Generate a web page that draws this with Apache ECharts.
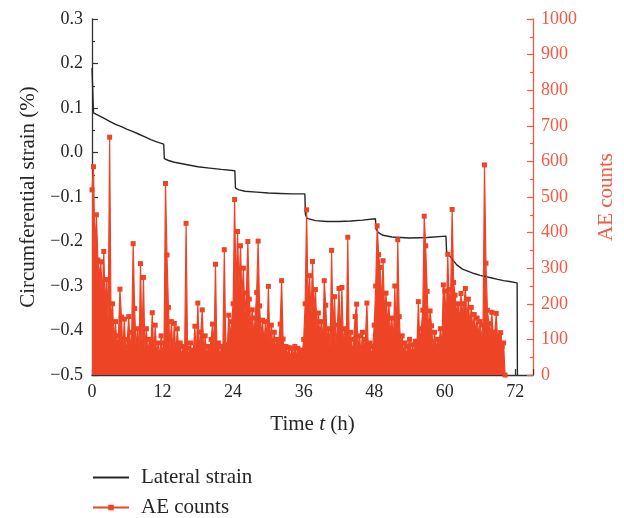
<!DOCTYPE html>
<html><head><meta charset="utf-8">
<script src="https://cdn.jsdelivr.net/npm/echarts@6/dist/echarts.min.js"></script>
<style>html,body{margin:0;padding:0;background:#fff}#c{width:624px;height:518px}</style>
</head><body><div id="c"></div>
<script>
// Lateral (circumferential) strain, % vs time (h)
const strainTime = [0, 0.25, 0.5, 1, 2, 3, 4, 5, 6, 7, 8, 9, 10, 11, 12.2, 12.3, 13, 14, 16, 18, 20, 22, 24.3, 24.4, 25, 26, 28, 30, 32, 34, 36.2, 36.3, 36.6, 38, 40, 42, 44, 46, 48.2, 48.3, 48.7, 49.5, 51, 54, 57, 60.2, 60.3, 61, 62, 63, 64, 65, 66, 67, 68, 69, 70, 71, 72.3, 72.35];
const strainValue = [0.19, 0.089, 0.087, 0.084, 0.077, 0.070, 0.063, 0.058, 0.052, 0.047, 0.041, 0.035, 0.029, 0.024, 0.019, -0.014, -0.018, -0.022, -0.027, -0.032, -0.035, -0.038, -0.041, -0.080, -0.084, -0.087, -0.089, -0.091, -0.092, -0.093, -0.093, -0.140, -0.148, -0.153, -0.155, -0.155, -0.154, -0.152, -0.149, -0.172, -0.180, -0.186, -0.190, -0.192, -0.191, -0.188, -0.222, -0.235, -0.252, -0.262, -0.267, -0.272, -0.276, -0.279, -0.282, -0.285, -0.288, -0.290, -0.293, -0.5];

// AE counts, sampled every aeStep hours starting at t = 0
const aeStep = 0.25;
const aeCounts = [
  520, 585, 351, 450, 323, 280, 318, 220, 347, 200, 268, 150,
  668, 130, 200, 90, 150, 80, 110, 241, 163, 70, 157, 60,
  100, 164, 70, 120, 369, 187, 75, 130, 65, 313, 90, 274,
  70, 130, 60, 100, 75, 175, 60, 140, 55, 90, 50, 110,
  60, 90, 538, 337, 190, 70, 150, 65, 145, 55, 130, 70,
  90, 50, 80, 60, 426, 75, 50, 90, 55, 70, 137, 50,
  202, 65, 120, 183, 60, 110, 50, 80, 60, 100, 143, 70,
  311, 60, 90, 50, 80, 60, 352, 85, 70, 168, 110, 150,
  200, 493, 230, 403, 250, 363, 220, 300, 170, 230, 375, 213,
  140, 183, 110, 160, 232, 376, 194, 110, 154, 90, 150, 100,
  249, 90, 140, 80, 120, 70, 100, 88, 143, 265, 101, 60,
  80, 55, 77, 45, 75, 55, 80, 50, 75, 60, 70, 55,
  100, 200, 464, 190, 279, 170, 319, 180, 240, 130, 174, 110,
  150, 90, 265, 196, 100, 130, 75, 350, 120, 220, 80, 140,
  243, 95, 246, 80, 130, 98, 387, 75, 120, 60, 100, 164,
  199, 70, 110, 60, 120, 75, 100, 202, 65, 90, 55, 80,
  140, 250, 419, 338, 302, 200, 321, 170, 230, 140, 199, 110,
  160, 90, 250, 110, 380, 164, 80, 110, 60, 90, 55, 80,
  100, 55, 85, 60, 95, 70, 206, 90, 130, 182, 446, 363,
  235, 120, 180, 138, 75, 120, 70, 100, 80, 130, 75, 253,
  236, 150, 339, 200, 240, 465, 260, 224, 170, 200, 150, 229,
  170, 200, 243, 150, 213, 140, 190, 130, 170, 120, 160, 110,
  150, 100, 140, 590, 314, 182, 144, 110, 176, 100, 120, 173,
  90, 110, 119, 80, 90, 0
];

const xTicks = [0, 12, 24, 36, 48, 60, 72];

const strainData = strainTime.map((t, i) => [t, strainValue[i]]);
const aeData = aeCounts.map((v, i) => [i * aeStep, v]);

const FONT = "'Liberation Serif', 'DejaVu Serif', serif";
const DARK = '#262626';
const RED = '#EE4426';
const RED_AX = '#F05A44';

const chart = echarts.init(document.getElementById('c'), null, {renderer: 'canvas'});
chart.setOption({
  animation: false,
  backgroundColor: '#fff',
  grid: {left: 92, right: 91, top: 19, bottom: 143, outerBoundsMode: 'none'},
  legend: {
    orient: 'vertical', left: 92, top: 467, height: 100, padding: 0,
    itemWidth: 36, itemHeight: 7, itemGap: 9,
    textStyle: {fontFamily: FONT, fontSize: 21, color: DARK, padding: [0, 0, 0, 7]},
    data: [{name: 'Lateral strain', itemStyle: {opacity: 0}}, {name: 'AE counts'}]
  },
  xAxis: {
    type: 'value', min: 0, max: 75, interval: 12,
    name: '{n|Time }{i|t}{n| (h)}', nameLocation: 'middle', nameGap: 39,
    nameTextStyle: {rich: {
      n: {fontFamily: FONT, fontSize: 21, color: DARK},
      i: {fontFamily: FONT, fontSize: 21, color: DARK, fontStyle: 'italic'}
    }},
    axisLine: {show: true, onZero: false, lineStyle: {color: '#333', width: 1.3}},
    axisTick: {show: true, inside: true, length: 6, lineStyle: {color: '#333', width: 1.2}},
    minorTick: {show: true, splitNumber: 2, length: 3, lineStyle: {color: '#333', width: 1.2}},
    splitLine: {show: false},
    axisLabel: {fontFamily: FONT, fontSize: 18, color: DARK, margin: 8,
      formatter: v => xTicks.indexOf(v) >= 0 ? String(v) : ''}
  },
  yAxis: [{
    type: 'value', min: -0.5, max: 0.3, interval: 0.1, position: 'left',
    name: 'Circumferential strain (%)', nameLocation: 'middle', nameGap: 52,
    nameTextStyle: {fontFamily: FONT, fontSize: 21, color: DARK},
    axisLine: {show: true, onZero: false, lineStyle: {color: '#333', width: 1.3}},
    axisTick: {show: true, inside: true, length: 6, lineStyle: {color: '#333', width: 1.2}},
    minorTick: {show: true, splitNumber: 2, length: 3, lineStyle: {color: '#333', width: 1.2}},
    splitLine: {show: false},
    axisLabel: {fontFamily: FONT, fontSize: 18, color: DARK, margin: 9,
      formatter: v => Math.abs(v) < 1e-9 ? '0.0' : v.toFixed(1).replace('-', '\u2212')}
  }, {
    type: 'value', min: 0, max: 1000, interval: 100, position: 'right',
    name: 'AE counts', nameLocation: 'middle', nameGap: 63, nameRotate: 90,
    nameTextStyle: {fontFamily: FONT, fontSize: 21, color: RED_AX},
    axisLine: {show: true, onZero: false, lineStyle: {color: RED_AX, width: 1.3}},
    axisTick: {show: true, inside: true, length: 6, lineStyle: {color: RED_AX, width: 1.2}},
    minorTick: {show: true, splitNumber: 2, length: 3, lineStyle: {color: RED_AX, width: 1.2}},
    splitLine: {show: false},
    axisLabel: {fontFamily: FONT, fontSize: 18, color: RED_AX, margin: 8,
      formatter: v => String(v)}
  }],
  series: [{
    name: 'Lateral strain', type: 'line', yAxisIndex: 0, data: strainData,
    symbol: 'none', color: DARK,
    lineStyle: {color: DARK, width: 1.4}
  }, {
    name: 'AE counts', type: 'line', yAxisIndex: 1, data: aeData,
    symbol: 'rect', symbolSize: 5, showAllSymbol: true, color: RED,
    itemStyle: {color: RED},
    lineStyle: {color: RED, width: 1.2},
    areaStyle: {color: RED, opacity: 1}
  }]
});
</script></body></html>
